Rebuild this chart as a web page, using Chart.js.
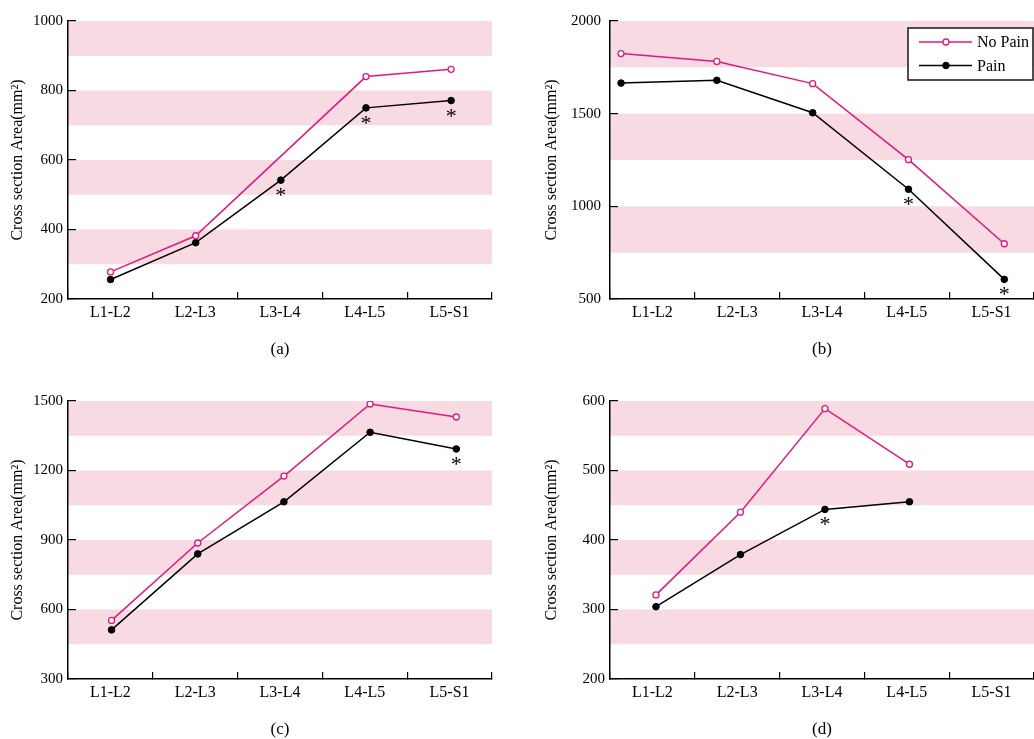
<!DOCTYPE html>
<html><head><meta charset="utf-8">
<script src="https://cdn.jsdelivr.net/npm/chart.js@4.4.1/dist/chart.umd.min.js"></script>
<style>
html,body{margin:0;padding:0;background:#fff;overflow:hidden;width:1034px;height:739px;}
canvas{position:absolute;}
</style></head><body>
<canvas id="ca" width="517" height="370" style="left:0;top:0"></canvas>
<canvas id="cb" width="517" height="370" style="left:517px;top:0"></canvas>
<canvas id="cc" width="517" height="370" style="left:0;top:380px"></canvas>
<canvas id="cd" width="517" height="370" style="left:517px;top:380px"></canvas>
<script>
// ---------- data ----------
const categories = ['L1-L2', 'L2-L3', 'L3-L4', 'L4-L5', 'L5-S1'];
const seriesNames = ['No Pain', 'Pain'];
const yTitle = 'Cross section Area(mm²)';

// (a)
const noPainA = [278, 382, null, 840, 861];
const painA   = [256, 362, 542, 750, 771];
const starsA  = [2, 3, 4];
const yTicksA = [200, 400, 600, 800, 1000];
// (b)
const noPainB = [1824, 1782, 1662, 1252, 798];
const painB   = [1665, 1680, 1505, 1092, 606];
const starsB  = [3, 4];
const yTicksB = [500, 1000, 1500, 2000];
// (c)
const noPainC = [553, 887, 1176, 1487, 1431];
const painC   = [512, 840, 1065, 1365, 1293];
const starsC  = [4];
const yTicksC = [300, 600, 900, 1200, 1500];
// (d)
const noPainD = [321, 440, 589, 509, null];
const painD   = [304, 379, 444, 455, null];
const starsD  = [2];
const yTicksD = [200, 300, 400, 500, 600];

// ---------- styles ----------
const PINK = '#e2187e';
const BAND = '#f8dae2';
const FONT = 'Liberation Serif';
Chart.defaults.font.family = FONT;
Chart.defaults.color = '#000';

const bandsPlugin = {
  id: 'bands',
  beforeDraw(chart) {
    const {ctx, chartArea: {left, right}, scales: {y}} = chart;
    const t = y.ticks.map(k => k.value);
    ctx.save();
    ctx.fillStyle = BAND;
    for (let i = 0; i < t.length - 1; i++) {
      const lo = (t[i] + t[i + 1]) / 2, hi = t[i + 1];
      const y1 = y.getPixelForValue(hi), y2 = y.getPixelForValue(lo);
      ctx.fillRect(left, y1, right - left, y2 - y1);
    }
    ctx.restore();
  }
};

const starsPlugin = {
  id: 'stars',
  afterDatasetsDraw(chart, args, opts) {
    const meta = chart.getDatasetMeta(1);
    const ctx = chart.ctx;
    ctx.save();
    ctx.fillStyle = '#000';
    ctx.font = '22px "' + FONT + '"';
    ctx.textAlign = 'center';
    ctx.textBaseline = 'alphabetic';
    (opts.indices || []).forEach(i => {
      const el = meta.data[i];
      if (!el) return;
      ctx.fillText('*', el.x, el.y + 12 + 10);
    });
    ctx.restore();
  }
};

const legendPlugin = {
  id: 'boxLegend',
  afterDraw(chart, args, opts) {
    if (!opts.show) return;
    const ctx = chart.ctx;
    const bx = 391, by = 28, bw = 125, bh = 52;
    ctx.save();
    ctx.fillStyle = '#fff';
    ctx.fillRect(bx, by, bw, bh);
    ctx.strokeStyle = '#222';
    ctx.lineWidth = 1.6;
    ctx.strokeRect(bx, by, bw, bh);
    chart.data.datasets.forEach((ds, k) => {
      const yy = by + 14 + k * 23.5;
      ctx.strokeStyle = ds.borderColor;
      ctx.lineWidth = 1.5;
      ctx.beginPath(); ctx.moveTo(402, yy); ctx.lineTo(455, yy); ctx.stroke();
      ctx.beginPath(); ctx.arc(429, yy, ds.pointRadius, 0, Math.PI * 2);
      ctx.fillStyle = ds.pointBackgroundColor; ctx.fill();
      ctx.lineWidth = ds.pointBorderWidth; ctx.strokeStyle = ds.borderColor; ctx.stroke();
      ctx.fillStyle = '#000';
      ctx.font = '16px "' + FONT + '"';
      ctx.textAlign = 'left';
      ctx.textBaseline = 'middle';
      ctx.fillText(ds.label, 460, yy + 1);
    });
    ctx.restore();
  }
};

function zeroPad(s) { s.paddingTop = 0; s.paddingBottom = 0; s.paddingLeft = 0; s.paddingRight = 0; }

function makePanel(id, p) {
  const toXY = arr => categories.map((c, i) => ({x: i, y: arr[i]}));
  new Chart(document.getElementById(id), {
    type: 'line',
    data: {
      datasets: [
        {label: seriesNames[0], data: toXY(p.np), borderColor: PINK, borderWidth: 1.5,
         pointRadius: 3, pointBorderWidth: 1.3, pointBackgroundColor: '#fff', pointBorderColor: PINK,
         spanGaps: true, tension: 0, xAxisID: 'x', yAxisID: 'y'},
        {label: seriesNames[1], data: toXY(p.pn), borderColor: '#000', borderWidth: 1.5,
         pointRadius: 3.3, pointBorderWidth: 1, pointBackgroundColor: '#000', pointBorderColor: '#000',
         spanGaps: true, tension: 0, xAxisID: 'x', yAxisID: 'y'}
      ]
    },
    options: {
      responsive: false, animation: false, devicePixelRatio: 1,
      layout: {autoPadding: false, padding: {top: 21, right: p.padRight, bottom: 0, left: 0}},
      plugins: {
        legend: {display: false}, tooltip: {enabled: false},
        stars: {indices: p.stars},
        boxLegend: {show: !!p.legend}
      },
      scales: {
        x: {type: 'linear', display: false, min: p.xmin, max: p.xmax, afterFit: zeroPad},
        xc: {
          type: 'category', position: 'bottom', labels: categories, offset: true,
          afterFit: s => { s.height = 71; zeroPad(s); },
          grid: {display: true, drawOnChartArea: false, drawTicks: true, tickLength: -7, color: '#000', lineWidth: 1.2, offset: true},
          border: {display: true, color: '#000', width: 1.5},
          ticks: {font: {size: 16}, padding: 11, color: '#000', maxRotation: 0, autoSkip: false},
          title: {display: true, text: p.caption, font: {size: 17}, color: '#000', padding: {top: 0, bottom: 10}}
        },
        y: {
          type: 'linear', position: 'left',
          min: p.yTicks[0], max: p.yTicks[p.yTicks.length - 1],
          afterFit: s => { s.width = p.yWidth; zeroPad(s); },
          afterBuildTicks: s => { s.ticks = p.yTicks.map(v => ({value: v})); },
          grid: {display: true, drawOnChartArea: false, drawTicks: true, tickLength: -8, color: '#000', lineWidth: 1.2},
          border: {display: true, color: '#000', width: 1.5},
          ticks: {font: {size: 15}, padding: p.yPad, color: '#000', callback: v => String(v)},
          title: {display: true, text: yTitle, font: {size: 16}, color: '#000', padding: {top: p.titlePad, bottom: 0}}
        }
      }
    },
    plugins: [bandsPlugin, starsPlugin, legendPlugin]
  });
}

makePanel('ca', {np: noPainA, pn: painA, stars: starsA, yTicks: yTicksA, caption: '(a)',
  padRight: 25, yWidth: 68, yPad: 13, titlePad: 8.5, xmin: -0.5, xmax: 4.48});
makePanel('cb', {np: noPainB, pn: painB, stars: starsB, yTicks: yTicksB, caption: '(b)',
  padRight: 0, yWidth: 93, yPad: 17, titlePad: 25, xmin: -0.115, xmax: 4.31, legend: true});
makePanel('cc', {np: noPainC, pn: painC, stars: starsC, yTicks: yTicksC, caption: '(c)',
  padRight: 25, yWidth: 68, yPad: 13, titlePad: 8.5, xmin: -0.505, xmax: 4.414});
makePanel('cd', {np: noPainD, pn: painD, stars: starsD, yTicks: yTicksD, caption: '(d)',
  padRight: 0, yWidth: 93, yPad: 13, titlePad: 25, xmin: -0.544, xmax: 4.474});
</script>
</body></html>
